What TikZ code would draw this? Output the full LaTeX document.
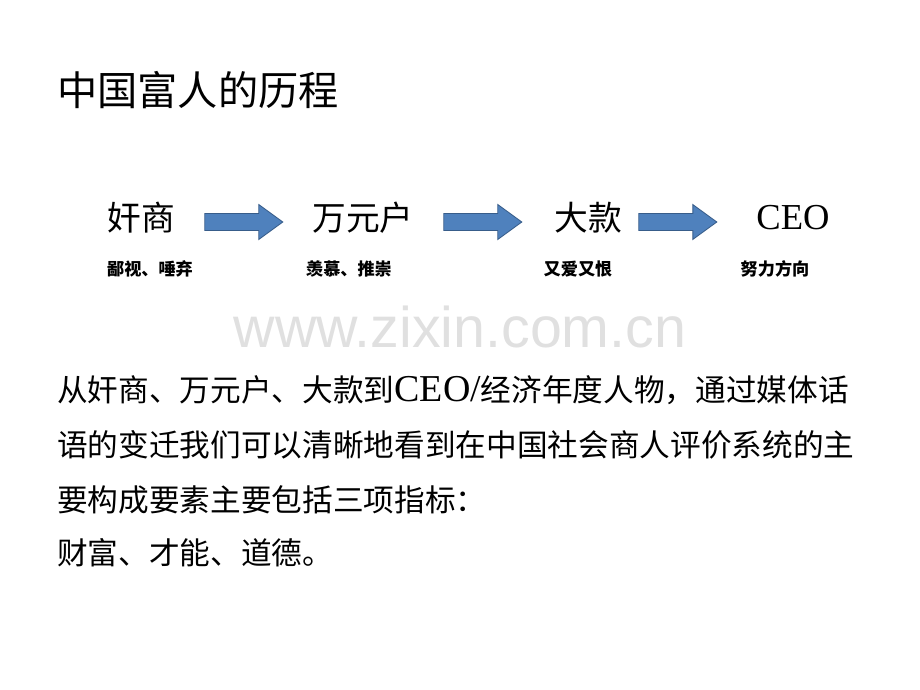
\documentclass[tikz,border=0pt]{standalone}
\usepackage{fontspec}
\setmainfont{Liberation Serif}
\newfontfamily\cjk{Noto Sans CJK SC}
\newfontfamily\wmfont{Liberation Sans}
\usetikzlibrary{shapes.arrows}
\definecolor{arrowblue}{HTML}{4F81BD}
\definecolor{arrowedge}{HTML}{385D8A}
\tikzset{
  title/.style={anchor=west, inner sep=0pt, font=\cjk\fontsize{28.6pt}{34pt}\selectfont},
  stage/.style={inner sep=0pt, font=\cjk\fontsize{24pt}{29pt}\selectfont},
  remark/.style={inner sep=0pt, font=\cjk\bfseries\fontsize{12.2pt}{15pt}\selectfont},
  bodyline/.style={anchor=west, inner sep=0pt, font=\cjk\fontsize{21.8pt}{26pt}\selectfont},
  blockarrow/.style={single arrow, draw=arrowedge, fill=arrowblue, line width=0.6pt,
    minimum height=1.95cm, inner xsep=0pt, inner ysep=0.2cm,
    single arrow head extend=0.225cm, single arrow tip angle=72}
}
\begin{document}
\begin{tikzpicture}[x=0.025cm, y=-0.025cm]
\useasboundingbox (0,0) rectangle (920,690);
% heading
\node[title] (head) at (57,90) {中国富人的历程};
% stages
\node[stage] (s1) at (141,218) {奸商};
\node[stage] (s2) at (363,218) {万元户};
\node[stage] (s3) at (588,218) {大款};
\node[inner sep=0pt, font=\fontsize{26pt}{30pt}\selectfont] (s4) at (793,218) {CEO};
\node[blockarrow] (a1) at (238,222) {};
\node[blockarrow] (a2) at (477,222) {};
\node[blockarrow] (a3) at (672,222) {};
% remarks
\node[remark] (r1) at (150,269) {鄙视、唾弃};
\node[remark] (r2) at (349,269) {羡慕、推崇};
\node[remark] (r3) at (578,269) {又爱又恨};
\node[remark] (r4) at (775,269) {努力方向};
% watermark
\node[inner sep=0pt, text=black!12, font=\wmfont\fontsize{40.8pt}{48pt}\selectfont] (wm) at (460,327) {www.zixin.com.cn};
% text
\node[bodyline] (l1) at (57,390) {从奸商、万元户、大款到{\rmfamily\fontsize{27pt}{30pt}\selectfont CEO/}经济年度人物，通过媒体话};
\node[bodyline] (l2) at (57,445) {语的变迁我们可以清晰地看到在中国社会商人评价系统的主};
\node[bodyline] (l3) at (57,500) {要构成要素主要包括三项指标：};
\node[bodyline] (l4) at (57,553) {财富、才能、道德。};
\end{tikzpicture}
\end{document}
